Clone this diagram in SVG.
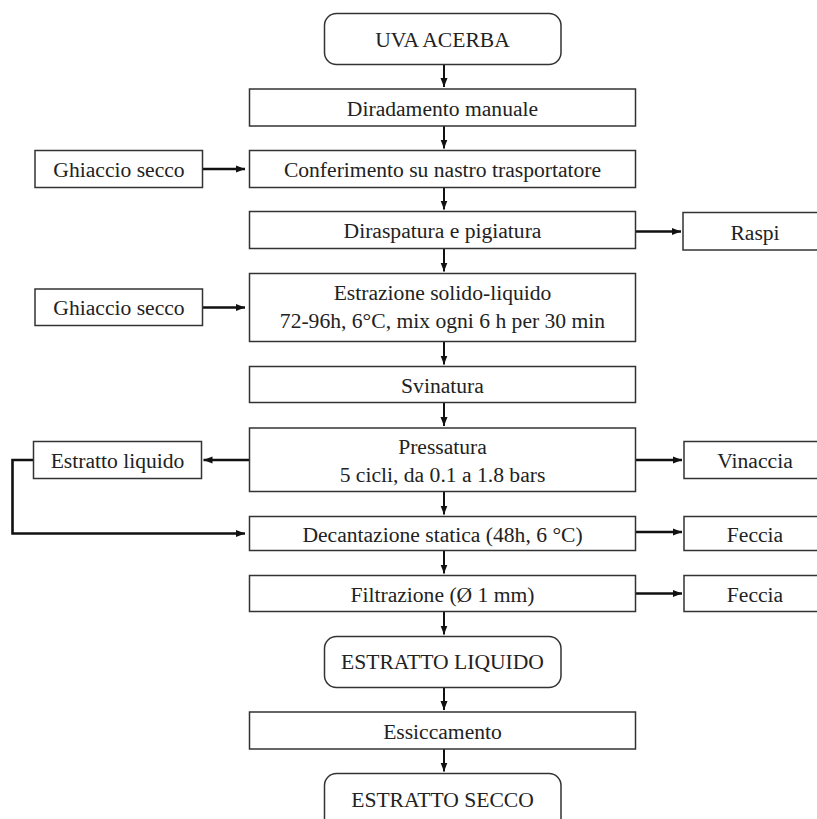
<svg xmlns="http://www.w3.org/2000/svg" width="817" height="819" viewBox="0 0 817 819">
<style>
.box{fill:#fff;stroke:#333;stroke-width:1.5}
.t{font-family:"Liberation Serif","Times New Roman",serif;font-size:21.6px;fill:#222;text-anchor:middle}
.v{fill:none;stroke:#111;stroke-width:2}
.h{fill:none;stroke:#111;stroke-width:2.6}
</style>
<defs>
<marker id="ah" markerUnits="userSpaceOnUse" markerWidth="10" markerHeight="8" refX="9" refY="4" orient="auto">
<path d="M0,0.5 L9,4 L0,7.5 z" fill="#111"/>
</marker>
</defs>
<rect width="817" height="819" fill="#fff"/>

<g id="connectors">
<path class="v" d="M444,64.5 V87" marker-end="url(#ah)"/>
<path class="v" d="M444,126 V148.5" marker-end="url(#ah)"/>
<path class="v" d="M444,187.5 V209.5" marker-end="url(#ah)"/>
<path class="v" d="M444,248.5 V271.5" marker-end="url(#ah)"/>
<path class="v" d="M444,341.5 V364.5" marker-end="url(#ah)"/>
<path class="v" d="M444,402.5 V426" marker-end="url(#ah)"/>
<path class="v" d="M444,491.5 V514.5" marker-end="url(#ah)"/>
<path class="v" d="M444,550.5 V573.5" marker-end="url(#ah)"/>
<path class="v" d="M444,611.5 V634.5" marker-end="url(#ah)"/>
<path class="v" d="M444,687.5 V710" marker-end="url(#ah)"/>
<path class="v" d="M444,749 V771.5" marker-end="url(#ah)"/>
<path class="h" d="M202.5,169 H245" marker-end="url(#ah)"/>
<path class="h" d="M202.5,307.5 H245" marker-end="url(#ah)"/>
<path class="h" d="M635.5,231.5 H681" marker-end="url(#ah)"/>
<path class="h" d="M249.5,460 H203.5" marker-end="url(#ah)"/>
<path class="h" d="M635.5,460 H682" marker-end="url(#ah)"/>
<path class="h" d="M33.5,460 H12.5 V533.5 H245" marker-end="url(#ah)"/>
<path class="h" d="M635.5,532 H682" marker-end="url(#ah)"/>
<path class="h" d="M635.5,593.5 H682" marker-end="url(#ah)"/>
</g>

<g id="uva-acerba">
<rect class="box" x="324.5" y="13.5" width="236.5" height="51" rx="12"/>
<text class="t" x="442.5" y="46.5">UVA ACERBA</text>
</g>
<g id="diradamento">
<rect class="box" x="249.5" y="89" width="386" height="37"/>
<text class="t" x="442.5" y="115.5">Diradamento manuale</text>
</g>
<g id="conferimento">
<rect class="box" x="249.5" y="150.5" width="386" height="37"/>
<text class="t" x="442.5" y="176.5">Conferimento su nastro trasportatore</text>
</g>
<g id="diraspatura">
<rect class="box" x="249.5" y="211.5" width="386" height="37"/>
<text class="t" x="442.5" y="238">Diraspatura e pigiatura</text>
</g>
<g id="estrazione">
<rect class="box" x="249.5" y="273.5" width="386" height="68"/>
<text class="t" x="442.5" y="300">Estrazione solido-liquido</text>
<text class="t" x="442.5" y="328">72-96h, 6°C, mix ogni 6 h per 30 min</text>
</g>
<g id="svinatura">
<rect class="box" x="249.5" y="366.5" width="386" height="36"/>
<text class="t" x="442.5" y="392.5">Svinatura</text>
</g>
<g id="pressatura">
<rect class="box" x="249.5" y="428" width="386" height="63.5"/>
<text class="t" x="442.5" y="454">Pressatura</text>
<text class="t" x="442.5" y="481.5">5 cicli, da 0.1 a 1.8 bars</text>
</g>
<g id="decantazione">
<rect class="box" x="249.5" y="516.5" width="386" height="34"/>
<text class="t" x="442.5" y="541.5">Decantazione statica (48h, 6 °C)</text>
</g>
<g id="filtrazione">
<rect class="box" x="249.5" y="575.5" width="386" height="36"/>
<text class="t" x="442.5" y="601.5">Filtrazione (Ø 1 mm)</text>
</g>
<g id="estratto-liquido-out">
<rect class="box" x="324.5" y="636.5" width="236.5" height="51" rx="12"/>
<text class="t" x="442.5" y="669">ESTRATTO LIQUIDO</text>
</g>
<g id="essiccamento">
<rect class="box" x="249.5" y="712" width="386" height="37"/>
<text class="t" x="442.5" y="738.5">Essiccamento</text>
</g>
<g id="estratto-secco">
<rect class="box" x="324.5" y="773.5" width="236.5" height="60" rx="12"/>
<text class="t" x="442.5" y="807">ESTRATTO SECCO</text>
</g>

<g id="ghiaccio-secco-1">
<rect class="box" x="35" y="150.5" width="167.5" height="37"/>
<text class="t" x="119" y="176.5">Ghiaccio secco</text>
</g>
<g id="ghiaccio-secco-2">
<rect class="box" x="35" y="289" width="167.5" height="36.5"/>
<text class="t" x="119" y="315">Ghiaccio secco</text>
</g>
<g id="estratto-liquido-side">
<rect class="box" x="33.5" y="441.5" width="168" height="37"/>
<text class="t" x="117.5" y="467.5">Estratto liquido</text>
</g>
<g id="raspi">
<rect class="box" x="683" y="212.5" width="143" height="37.5"/>
<text class="t" x="755" y="239.5">Raspi</text>
</g>
<g id="vinaccia">
<rect class="box" x="684" y="441.5" width="143" height="37"/>
<text class="t" x="755" y="467.5">Vinaccia</text>
</g>
<g id="feccia-1">
<rect class="box" x="684" y="516.5" width="143" height="34"/>
<text class="t" x="755" y="541.5">Feccia</text>
</g>
<g id="feccia-2">
<rect class="box" x="684" y="575.5" width="143" height="36"/>
<text class="t" x="755" y="601.5">Feccia</text>
</g>
</svg>
